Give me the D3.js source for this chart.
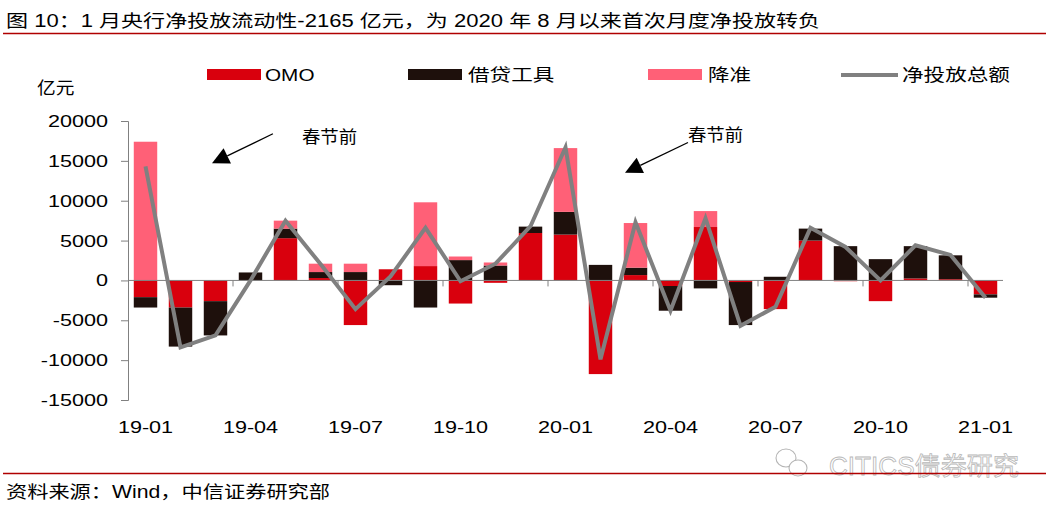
<!DOCTYPE html>
<html>
<head>
<meta charset="utf-8">
<script src="https://cdn.jsdelivr.net/npm/d3@7"></script>
<style>
  html, body { margin: 0; padding: 0; background: #fff; }
  svg { display: block; }
  text { font-family: "Liberation Sans", Arial, "Noto Sans CJK SC", sans-serif; fill: #000; }
</style>
</head>
<body>
<svg id="chart" width="1050" height="511"></svg>
<script>
// ---------------- data ----------------
const months = ["19-01","19-02","19-03","19-04","19-05","19-06","19-07","19-08","19-09","19-10","19-11","19-12",
                "20-01","20-02","20-03","20-04","20-05","20-06","20-07","20-08","20-09","20-10","20-11","20-12","21-01"];
const omo     = [-2100,-3400,-2600,0,5300,300,-5600,1400,1800,-2900,-300,5950,5750,-11750,670,-700,6700,-200,-3600,5000,-100,-2600,250,150,-1750];
const lending = [-1300,-4900,-4300,1000,1200,750,1050,-600,-3400,2550,1870,800,2850,1950,930,-3100,-1000,-5400,460,1500,4300,2670,4050,3000,-415];
const rrr     = [17400,0,0,0,1000,1050,1050,0,8000,450,380,0,8000,0,5600,0,2000,0,0,0,0,0,0,0,0];
const net     = [14300,-8400,-6900,0,7500,2050,-3600,500,6600,-100,2100,6800,16700,-9900,7300,-3800,7800,-5700,-3300,6600,4200,0,4400,3200,-2165];
const seriesNames = ["OMO","借贷工具","降准","净投放总额"];
const yTicks = [-15000,-10000,-5000,0,5000,10000,15000,20000];
const xLabelMonths = ["19-01","19-04","19-07","19-10","20-01","20-04","20-07","20-10","21-01"];
const titleText = "图 10：1 月央行净投放流动性-2165 亿元，为 2020 年 8 月以来首次月度净投放转负";
const sourceText = "资料来源：Wind，中信证券研究部";
const unitText = "亿元";
// annotations: arrow tail/tip in (category position, value)
const annotations = [
  {label: "春节前", textPos: 4.97, textVal: 18000, tail: [4.14, 18400], tip: [2.4, 14700]},
  {label: "春节前", textPos: 16.0, textVal: 18250, tail: [16.0, 17300], tip: [14.2, 13500]}
];

// ---------------- styles ----------------
const colors = {OMO: "#D9000D", "借贷工具": "#1E100C", "降准": "#FF6077", "净投放总额": "#808080"};
const SX = 1.27; // horizontal text stretch of the reference

const svg = d3.select("#chart");
const pL = 128, pR = 1003, pT = 121, pB = 400;

const x = d3.scaleBand().domain(months).range([pL, pR]).paddingInner(0.33).paddingOuter(0.165);
const xPos = d3.scaleLinear().domain([0, months.length]).range([pL, pR]);
const y = d3.scaleLinear().domain([-15000, 20000]).range([pB, pT]);

function stext(g, px, py, str, size, anchor, sx) {
  return g.append("text")
    .attr("transform", `translate(${px},${py}) scale(${sx === undefined ? SX : sx},1)`)
    .attr("text-anchor", anchor || "start")
    .attr("font-size", size)
    .text(str);
}

// ---------------- title ----------------
svg.append("text").attr("x", 6).attr("y", 27).attr("font-size", 17.5)
  .attr("textLength", 814).attr("lengthAdjust", "spacingAndGlyphs").text(titleText);
svg.append("line").attr("x1", 3).attr("x2", 1046).attr("y1", 33.5).attr("y2", 33.5)
  .attr("stroke", "#B00000").attr("stroke-width", 1.5);

// ---------------- bars ----------------
const table = months.map((m, i) => ({month: m, OMO: omo[i], "借贷工具": lending[i], "降准": rrr[i]}));
const stack = d3.stack().keys(["OMO","借贷工具","降准"]).offset(d3.stackOffsetDiverging);
const layers = stack(table);

const barG = svg.append("g");
layers.forEach(layer => {
  barG.append("g").attr("fill", colors[layer.key])
    .selectAll("rect").data(layer).join("rect")
    .attr("x", d => x(d.data.month))
    .attr("width", x.bandwidth())
    .attr("y", d => y(Math.max(d[0], d[1])))
    .attr("height", d => Math.abs(y(d[0]) - y(d[1])));
});

// zero line & category ticks
svg.append("line").attr("x1", pL).attr("x2", pR).attr("y1", y(0)).attr("y2", y(0))
  .attr("stroke", "#808080").attr("stroke-width", 1);
const tickBoundaries = d3.range(3, months.length, 3);
svg.append("g").selectAll("line").data(tickBoundaries).join("line")
  .attr("x1", d => xPos(d)).attr("x2", d => xPos(d))
  .attr("y1", y(0)).attr("y2", y(0) + 6)
  .attr("stroke", "#808080").attr("stroke-width", 1);

// ---------------- net line ----------------
const line = d3.line().x((d, i) => x(months[i]) + x.bandwidth() / 2).y(d => y(d));
svg.append("path").datum(net).attr("d", line)
  .attr("fill", "none").attr("stroke", colors["净投放总额"]).attr("stroke-width", 4)
  .attr("stroke-linejoin", "miter");

// ---------------- y axis ----------------
const yAxis = d3.axisLeft(y).tickValues(yTicks).tickSize(7).tickFormat(() => "");
const yg = svg.append("g").attr("transform", `translate(${pL},0)`).call(yAxis);
yg.select(".domain").attr("stroke", "#808080");
yg.selectAll(".tick line").attr("stroke", "#808080");
yTicks.forEach(v => {
  stext(svg, 108, y(v) + 6, String(v), 17, "end");
});

// ---------------- x labels ----------------
xLabelMonths.forEach(m => {
  stext(svg, x(m) + x.bandwidth() / 2, 433, m, 17, "middle");
});

// ---------------- unit & legend ----------------
stext(svg, 37, 94, unitText, 17, "start", 1.1);
const legendItems = [
  {key: "OMO", sx: 207, tx: 265, type: "rect"},
  {key: "借贷工具", sx: 408, tx: 468, type: "rect"},
  {key: "降准", sx: 648, tx: 708, type: "rect"},
  {key: "净投放总额", sx: 841, tx: 902, type: "line"}
];
legendItems.forEach(it => {
  if (it.type === "rect") {
    svg.append("rect").attr("x", it.sx).attr("y", 69).attr("width", 54).attr("height", 11).attr("fill", colors[it.key]);
  } else {
    svg.append("line").attr("x1", it.sx).attr("x2", it.sx + 57).attr("y1", 75).attr("y2", 75)
      .attr("stroke", colors[it.key]).attr("stroke-width", 4);
  }
  stext(svg, it.tx, 81, it.key, 17, "start", it.key === "OMO" ? 1.22 : 1.27);
});

// ---------------- annotations ----------------
annotations.forEach(a => {
  const tx = xPos(a.tail[0]), ty = y(a.tail[1]);
  const hx = xPos(a.tip[0]), hy = y(a.tip[1]);
  const ang = Math.atan2(hy - ty, hx - tx);
  const L = 17, W = 8.5;
  const bx = hx - L * Math.cos(ang), by = hy - L * Math.sin(ang);
  svg.append("line").attr("x1", tx).attr("y1", ty).attr("x2", bx).attr("y2", by)
    .attr("stroke", "#000").attr("stroke-width", 1.3);
  const p1 = [bx + W * Math.sin(ang), by - W * Math.cos(ang)];
  const p2 = [bx - W * Math.sin(ang), by + W * Math.cos(ang)];
  svg.append("path").attr("d", `M${hx},${hy}L${p1[0]},${p1[1]}L${p2[0]},${p2[1]}Z`).attr("fill", "#000");
  stext(svg, xPos(a.textPos), y(a.textVal) + 6, a.label, 17.5, "start", 1.05);
});

// ---------------- footer ----------------
// watermark
const wm = svg.append("g");
wm.append("ellipse").attr("cx", 786).attr("cy", 458).attr("rx", 10).attr("ry", 9)
  .attr("fill", "#fff").attr("stroke", "#b5b5b5").attr("stroke-width", 1.1);
wm.append("ellipse").attr("cx", 798).attr("cy", 468).attr("rx", 9).attr("ry", 8)
  .attr("fill", "#fff").attr("stroke", "#b5b5b5").attr("stroke-width", 1.1);
wm.append("text").attr("x", 829).attr("y", 475).attr("font-size", 25)
  .attr("textLength", 190).attr("lengthAdjust", "spacingAndGlyphs")
  .style("fill", "#fff").style("stroke", "#b8b8b8").style("stroke-width", 0.8)
  .text("CITICS债券研究");

svg.append("line").attr("x1", 3).attr("x2", 1046).attr("y1", 473.5).attr("y2", 473.5)
  .attr("stroke", "#B00000").attr("stroke-width", 1.5);
svg.append("text").attr("x", 6).attr("y", 498).attr("font-size", 17.5)
  .attr("textLength", 324).attr("lengthAdjust", "spacingAndGlyphs").text(sourceText);
</script>
</body>
</html>
